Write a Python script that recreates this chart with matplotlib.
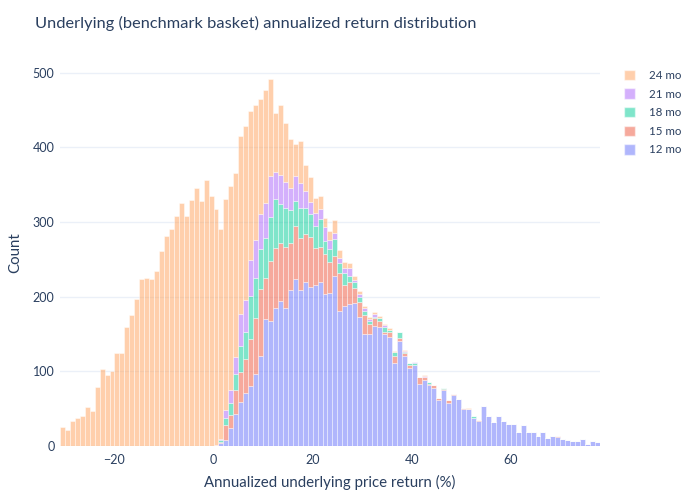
import numpy as np
import matplotlib
matplotlib.use("Agg")
import matplotlib.pyplot as plt
from matplotlib.patches import Patch

# --- Data (counts per 1%-wide bin) ---
bin_lo = -31          # left edge of the first bin (%)
bin_hi = 78           # right edge of the last bin (%)
bin_width = 1

horizons = ["12 mo", "15 mo", "18 mo", "21 mo", "24 mo"]
colors = ["#636EFA", "#EF553B", "#00CC96", "#AB63FA", "#FFA15A"]

# first bin (left edge) of each series
start_12mo = 0
start_15mo = 0
start_18mo = 0
start_21mo = 0
start_24mo = -31

counts_12mo = [0, 4, 8, 24, 43, 59, 71, 80, 97, 120,
               170, 168, 185, 194, 185, 209, 223, 209, 220, 213,
               216, 219, 203, 205, 227, 181, 188, 190, 192, 173,
               150, 150, 161, 159, 150, 146, 111, 141, 120, 105,
               108, 83, 88, 82, 78, 62, 75, 58, 68, 63,
               49, 50, 38, 34, 54, 40, 32, 40, 34, 29,
               29, 19, 28, 19, 19, 13, 19, 11, 13, 12,
               9, 8, 7, 7, 9, 3, 7, 5]
counts_15mo = [1, 2, 20, 18, 32, 40, 45, 63, 74, 90,
               55, 80, 80, 78, 81, 63, 72, 70, 64, 67,
               49, 47, 54, 41, 28, 50, 28, 30, 20, 20,
               25, 14, 10, 9, 3, 7, 10, 4, 5, 4,
               1, 9, 5, 1, 4, 2, 1, 4, 1, 0,
               2, 0, 0, 1, 0, 0, 0, 0, 0, 0,
               0, 0, 0, 0, 0, 0, 0, 0, 0, 1]
counts_18mo = [1, 2, 10, 15, 21, 35, 36, 58, 54, 54,
               54, 59, 66, 52, 53, 44, 33, 40, 35, 31,
               29, 38, 18, 18, 22, 14, 16, 8, 8, 7,
               6, 4, 2, 3, 6, 2, 5, 7, 1, 2,
               2, 1, 0, 3, 0, 0, 2, 0, 0, 0,
               0, 0, 2]
counts_21mo = [0, 1, 10, 18, 23, 43, 43, 48, 51, 47,
               46, 54, 36, 39, 34, 30, 34, 33, 23, 16,
               18, 13, 18, 12, 8, 7, 6, 10, 2, 4,
               4, 2, 4, 1, 3, 1, 0, 0, 1, 0,
               1, 0, 1]
counts_24mo = [25, 22, 33, 38, 40, 52, 47, 79, 103, 95,
               101, 125, 124, 160, 176, 197, 224, 225, 224, 235,
               261, 281, 290, 308, 326, 308, 329, 346, 328, 356,
               335,
               315, 281, 283, 273, 247, 238, 234, 199, 180, 153,
               152, 130, 79, 94, 80, 65, 43, 57, 34, 33,
               20, 18, 12, 12, 17, 11, 9, 7, 5, 3,
               3, 3, 2, 2, 1, 2, 1, 1, 1, 0,
               1, 0, 1, 0, 0, 0, 0, 0, 1, 0,
               0, 1]

series = [(counts_12mo, start_12mo), (counts_15mo, start_15mo),
          (counts_18mo, start_18mo), (counts_21mo, start_21mo),
          (counts_24mo, start_24mo)]

edges = np.arange(bin_lo, bin_hi, bin_width)

# --- Plot ---
plt.rcParams['font.family'] = ['Lato', 'DejaVu Sans']
text_color = "#2a3f5f"

fig, ax = plt.subplots(figsize=(7, 5), dpi=100)
fig.subplots_adjust(left=0.0857, right=0.857, bottom=0.108, top=0.878)

# stacked histogram, 12 mo at the bottom
bottom = np.zeros(len(edges))
handles = []
for (vals, start), name, col in zip(series, horizons, colors):
    full = np.zeros(len(edges))
    i0 = int((start - bin_lo) / bin_width)
    full[i0:i0 + len(vals)] = vals
    ax.bar(edges, full, width=bin_width, bottom=bottom, align='edge',
           color=col, alpha=0.5, edgecolor='white', linewidth=0.6, zorder=2)
    bottom += full
    handles.append(Patch(facecolor=col, alpha=0.5, edgecolor='white', label=name))

ax.set_xlim(bin_lo, bin_hi)
ax.set_ylim(0, bottom.max() * 1.05)
ax.set_xticks([-20, 0, 20, 40, 60])
ax.set_yticks([0, 100, 200, 300, 400, 500])
ax.yaxis.grid(True, color="#EBF0F8", linewidth=1)
ax.set_axisbelow(True)
for s in ax.spines.values():
    s.set_visible(False)
ax.tick_params(axis='both', length=0, labelsize=9, labelcolor=text_color)
ax.tick_params(axis='x', pad=6)
ax.tick_params(axis='y', pad=4)

fig.text(0.05, 0.953, "Underlying (benchmark basket) annualized return distribution",
         fontsize=11.8, color=text_color, va='center', ha='left')
fig.text(0.471, 0.036, "Annualized underlying price return (%)",
         fontsize=10.8, color=text_color, va='center', ha='center')
fig.text(0.022, 0.494, "Count", fontsize=10.8, color=text_color,
         va='center', ha='center', rotation=90)

fig.legend(handles=handles[::-1], loc='upper left', bbox_to_anchor=(0.876, 0.881),
           frameon=False, fontsize=8.3, labelcolor=text_color,
           handlelength=1.0, handleheight=1.0, handletextpad=1.2, labelspacing=0.65)

fig.savefig("out.png", dpi=100)
